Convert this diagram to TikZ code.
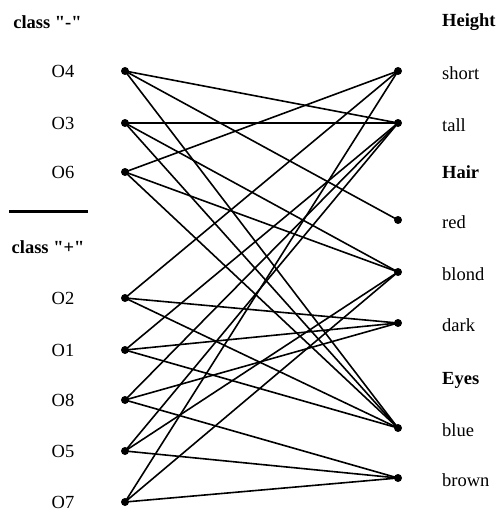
\documentclass[tikz,border=0pt]{standalone}
\usepackage{fontspec}
\setmainfont[Ligatures=TeXOff]{Liberation Serif}
\usetikzlibrary{positioning}

\begin{document}
\begin{tikzpicture}[x=1pt,y=-1pt,
  every node/.style={font=\fontsize{18.5}{20}\selectfont,text height=12.2pt,text depth=0pt,inner sep=0pt},
  head/.style={font=\fontsize{18.5}{20}\selectfont\bfseries},
  dot/.style={circle,fill=black,inner sep=0pt,minimum size=8pt,text height=,text depth=},
  link/.style={line width=1.6pt}]
  \useasboundingbox (0,0) rectangle (497,516);
  % objects
  \node[head] (minus) at (47.5,22) {class "-"};
  \node[head] (plus) at (48,247) {class "+"};
  \draw[line width=3pt] (9,211) coordinate (bar-l) -- (88,211) coordinate (bar-r);
  \foreach \n/\y in {4/71,3/123,6/172,2/298,1/350,8/400,5/451,7/502}{
    \node (lab\n) at (63,\y) {O\n};
    \node[dot] (o\n) at (125,\y) {};
  }
  % attributes
  \node[head,anchor=west] (height) at (442,20) {Height};
  \node[head,anchor=west] (hair) at (442,172) {Hair};
  \node[head,anchor=west] (eyes) at (442,378) {Eyes};
  \foreach \a/\y in {short/71,tall/123,red/220,blond/272,dark/323,blue/428,brown/478}{
    \node[dot] (\a) at (398,\y) {};
    \node[anchor=west] (t-\a) at (442,\y+2) {\a};
  }
  % object -> attribute
  \foreach \n/\h/\c/\e in {4/tall/red/blue,3/tall/blond/blue,6/short/blond/blue,
      2/short/dark/blue,1/tall/dark/blue,8/tall/dark/brown,5/tall/blond/brown,7/short/blond/brown}{
    \draw[link] (o\n.center) -- (\h.center);
    \draw[link] (o\n.center) -- (\c.center);
    \draw[link] (o\n.center) -- (\e.center);
  }
\end{tikzpicture}
\end{document}
